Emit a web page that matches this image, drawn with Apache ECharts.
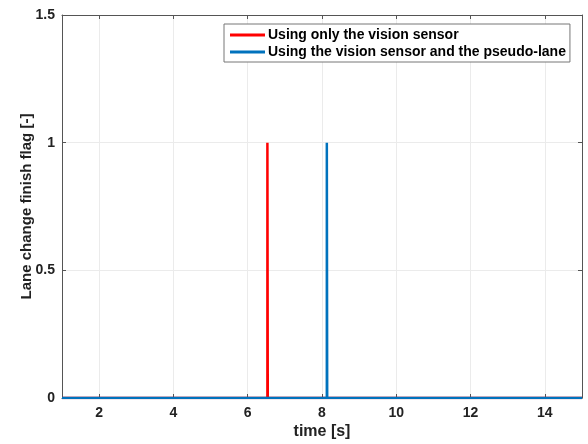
<!DOCTYPE html>
<html>
<head>
<meta charset="utf-8">
<script src="https://cdn.jsdelivr.net/npm/echarts@6/dist/echarts.min.js"></script>
<style>
  html, body { margin: 0; padding: 0; background: #fff; }
  #chart { width: 588px; height: 444px; }
</style>
</head>
<body>
<div id="chart"></div>
<script>
// Lane change finish flag over time for two detection setups
const xTicks = [2, 4, 6, 8, 10, 12, 14];
const yTicks = [0, 0.5, 1, 1.5];
const seriesNames = ['Using only the vision sensor', 'Using the vision sensor and the pseudo-lane'];
// flag signal: [time, flag]
const visionOnly = [[1, 0], [6.53, 0], [6.53, 1], [6.54, 1], [6.54, 0], [15, 0]];
const visionPseudo = [[1, 0], [8.13, 0], [8.13, 1], [8.14, 1], [8.14, 0], [15, 0]];

const chart = echarts.init(document.getElementById('chart'), null, { renderer: 'canvas' });
const font = 'Arial, "Liberation Sans", sans-serif';
const gridColor = '#ebebeb';
const boxColor = '#555';

const tickLabel = { color: '#222', fontFamily: font, fontWeight: 'bold', fontSize: 14 };

chart.setOption({
  animation: false,
  grid: { left: 62, right: 6, top: 15, bottom: 46, show: false, containLabel: false, outerBoundsMode: 'none' },
  legend: {
    orient: 'vertical',
    left: 224, top: 24,
    backgroundColor: '#fff',
    borderColor: '#777',
    borderWidth: 1,
    borderRadius: 0,
    padding: [4, 4, 3, 6],
    itemGap: 3,
    itemWidth: 35, itemHeight: 3,
    icon: 'rect',
    textStyle: { color: '#000', fontFamily: font, fontWeight: 'bold', fontSize: 14, padding: [0, 0, 0, -2] },
    data: seriesNames
  },
  xAxis: [{
    type: 'value', min: 1, max: 15,
    name: 'time [s]', nameLocation: 'middle', nameGap: 26, nameMoveOverlap: false,
    nameTextStyle: { color: '#222', fontFamily: font, fontWeight: 'bold', fontSize: 16 },
    axisLine: { show: true, onZero: false, lineStyle: { color: boxColor, width: 1 } },
    axisTick: { show: true, inside: true, length: 4, customValues: xTicks, lineStyle: { color: boxColor } },
    axisLabel: { customValues: xTicks, margin: 8, ...tickLabel },
    splitLine: { show: true, lineStyle: { color: gridColor, width: 1 } }
  }, {
    type: 'value', min: 1, max: 15, position: 'top',
    axisLine: { show: true, onZero: false, lineStyle: { color: boxColor, width: 1 } },
    axisTick: { show: true, inside: true, length: 4, customValues: xTicks, lineStyle: { color: boxColor } },
    axisLabel: { show: false },
    splitLine: { show: false }
  }],
  yAxis: [{
    type: 'value', min: 0, max: 1.5, interval: 0.5,
    name: 'Lane change finish flag [-]', nameLocation: 'middle', nameGap: 28, nameMoveOverlap: false,
    nameTextStyle: { color: '#222', fontFamily: font, fontWeight: 'bold', fontSize: 15 },
    axisLine: { show: true, onZero: false, lineStyle: { color: boxColor, width: 1 } },
    axisTick: { show: true, inside: true, length: 4, lineStyle: { color: boxColor } },
    axisLabel: { margin: 7, formatter: v => String(v), ...tickLabel },
    splitLine: { show: true, lineStyle: { color: gridColor, width: 1 } }
  }, {
    type: 'value', min: 0, max: 1.5, interval: 0.5, position: 'right',
    axisLine: { show: true, onZero: false, lineStyle: { color: boxColor, width: 1 } },
    axisTick: { show: true, inside: true, length: 4, lineStyle: { color: boxColor } },
    axisLabel: { show: false },
    splitLine: { show: false }
  }],
  series: [{
    name: seriesNames[0], type: 'line', data: visionOnly,
    showSymbol: false, color: '#ff0000',
    lineStyle: { width: 2.5, color: '#ff0000' }, z: 3
  }, {
    name: seriesNames[1], type: 'line', data: visionPseudo,
    showSymbol: false, color: '#0072bd',
    lineStyle: { width: 2.5, color: '#0072bd' }, z: 4
  }]
});
</script>
</body>
</html>
